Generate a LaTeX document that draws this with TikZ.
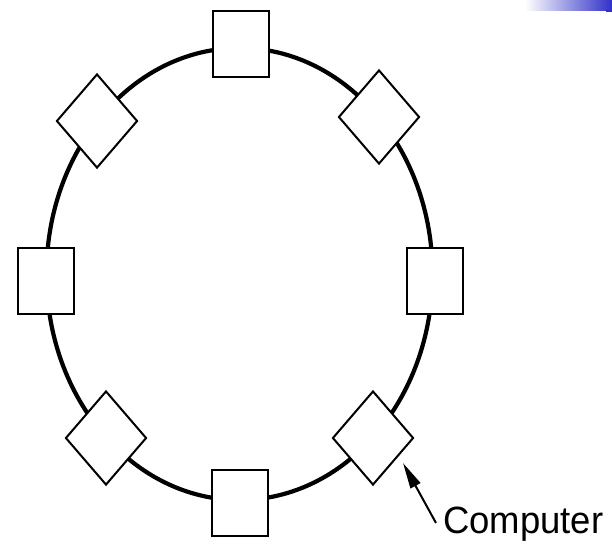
\documentclass[tikz,border=0pt]{standalone}
\usepackage{fontspec}
\setmainfont{Liberation Sans}
\usetikzlibrary{shapes.geometric,arrows.meta}
\definecolor{barblue}{RGB}{48,48,200}
\tikzset{
  ring/.style={line width=4.2pt, draw=black},
  sqbox/.style={draw=black, fill=white, line width=2.2pt, rectangle,
    minimum width=56pt, minimum height=66pt, inner sep=0pt},
  dmbox/.style={draw=black, fill=white, line width=2pt, diamond,
    minimum width=81pt, minimum height=94pt, inner sep=0pt},
  pointer/.style={line width=2pt, -{Triangle[length=26pt,width=11pt]}}
}
\begin{document}
\begin{tikzpicture}[x=1pt,y=-1pt]
  \useasboundingbox (0,0) rectangle (612,550);
  \fill[white] (0,0) rectangle (612,550);
  % title bar accent
  \shade[left color=white, right color=barblue] (525,0) rectangle (612,10);
  \fill[barblue] (606,10) rectangle (612,12);
  % the ring
  \draw[ring] (239.5,274) ellipse [x radius=193, y radius=226];
  % stations on the ring
  \node[sqbox] (pt) at (241,44) {};
  \node[sqbox] (pr) at (435,281) {};
  \node[sqbox] (pb) at (240,503) {};
  \node[sqbox] (pl) at (46,281) {};
  \node[dmbox] (dul) at (97,121) {};
  \node[dmbox] (dur) at (379,117) {};
  \node[dmbox] (dll) at (106,438) {};
  \node[dmbox] (dlr) at (373,438) {};
  % label
  \node[anchor=base west, inner sep=0pt, font=\fontsize{38}{40}\selectfont] (lbl) at (443,533) {\scalebox{0.96}[1]{Computer}};
  \coordinate (tail) at (436,523);
  \coordinate (tip) at (403,463);
  \draw[pointer] (tail) -- (tip);
\end{tikzpicture}
\end{document}
